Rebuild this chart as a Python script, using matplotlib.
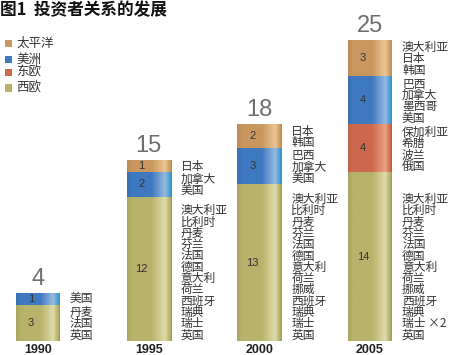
import matplotlib
matplotlib.use("Agg")
import matplotlib.pyplot as plt
import numpy as np
from matplotlib.colors import to_rgb, LinearSegmentedColormap
from matplotlib.patches import Rectangle

# ---------------- data ----------------
years = ["1990", "1995", "2000", "2005"]
region_names = ["西欧", "东欧", "美洲", "太平洋"]          # stacking order (bottom -> top)
legend_order = ["太平洋", "美洲", "东欧", "西欧"]

west = [3, 12, 13, 14]
east = [0, 0, 0, 4]
americas = [1, 2, 3, 4]
pacific = [0, 1, 2, 3]

west_countries = [
    ["丹麦", "法国", "英国"],
    ["澳大利亚", "比利时", "丹麦", "芬兰", "法国", "德国", "意大利", "荷兰", "西班牙", "瑞典", "瑞士", "英国"],
    ["澳大利亚", "比利时", "丹麦", "芬兰", "法国", "德国", "意大利", "荷兰", "挪威", "西班牙", "瑞典", "瑞士", "英国"],
    ["澳大利亚", "比利时", "丹麦", "芬兰", "法国", "德国", "意大利", "荷兰", "挪威", "西班牙", "瑞典", "瑞士 ×2", "英国"],
]
east_countries = [[], [], [], ["保加利亚", "希腊", "波兰", "俄国"]]
americas_countries = [["美国"], ["加拿大", "美国"], ["巴西", "加拿大", "美国"], ["巴西", "加拿大", "墨西哥", "美国"]]
pacific_countries = [[], ["日本"], ["日本", "韩国"], ["澳大利亚", "日本", "韩国"]]

title = "图1  投资者关系的发展"

# ---------------- styles ----------------
colors = {
    "西欧": ("#b7b36a", "#dedcaa", "#a39c4e"),
    "东欧": ("#cd694e", "#eaa285", "#c4553a"),
    "美洲": ("#3f79c0", "#95bae0", "#2a90d2"),
    "太平洋": ("#c9975f", "#ebc593", "#c08a4e"),
}
legend_colors = {"太平洋": "#c9975f", "美洲": "#3f79c0", "东欧": "#cd694e", "西欧": "#b7b36a"}

CJK = ["Noto Sans CJK SC", "DejaVu Sans"]
NUM = ["Liberation Sans", "DejaVu Sans"]

W, H = 451, 355
fig = plt.figure(figsize=(W / 100, H / 100), dpi=100)
ax = fig.add_axes([0, 0, 1, 1])
ax.set_axis_off()

px_unit = 12.04     # pixels per unit
px_cat = 110.67     # pixels per category
y0_px = 341         # pixel row of baseline (from top)
x0_px = 38
ylim = (-(H - y0_px) / px_unit, y0_px / px_unit)
xlim = (-x0_px / px_cat, (W - x0_px) / px_cat)

bar_w = 44 / px_cat
xs = np.arange(len(years))
series = {"西欧": west, "东欧": east, "美洲": americas, "太平洋": pacific}
country_lists = {"西欧": west_countries, "东欧": east_countries,
                 "美洲": americas_countries, "太平洋": pacific_countries}


def make_cmap(base, light, edge):
    b, l, e = np.array(to_rgb(base)), np.array(to_rgb(light)), np.array(to_rgb(edge))
    dark = b * 0.93
    return LinearSegmentedColormap.from_list(
        "g", [(0.0, dark), (0.12, b), (0.55, b), (0.85, l), (1.0, e)])


grad = np.linspace(0, 1, 256).reshape(1, -1)
pitch = 11.3 / px_unit
bottoms = np.zeros(len(years))
for reg in region_names:
    vals = np.array(series[reg], dtype=float)
    base, light, edge = colors[reg]
    cmap = make_cmap(base, light, edge)
    bars = ax.bar(xs, vals, width=bar_w, bottom=bottoms, color=base, linewidth=0)
    for patch, v in zip(bars.patches, vals):
        if v <= 0:
            continue
        x0, y0 = patch.get_x(), patch.get_y()
        im = ax.imshow(grad, cmap=cmap, aspect="auto", interpolation="bilinear",
                       extent=(x0, x0 + patch.get_width(), y0, y0 + patch.get_height()),
                       zorder=patch.get_zorder() + 0.1)
        im.set_clip_path(patch)
    for i, v in enumerate(vals):
        if v <= 0:
            continue
        ax.text(xs[i] - 7 / px_cat, bottoms[i] + v / 2, f"{int(v)}", ha="center", va="center",
                fontsize=8, family=NUM, color="#333333", zorder=5)
        names = country_lists[reg][i]
        n = len(names)
        for k, name in enumerate(names):
            from_bottom = n - 1 - k
            yc = bottoms[i] + 0.5 + from_bottom * pitch
            ax.text(xs[i] + bar_w / 2 + 10 / px_cat, yc, name, ha="left", va="center",
                    fontsize=8.5, family=CJK, color="#333333", linespacing=1.0)
    bottoms = bottoms + vals

ax.set_xlim(*xlim)
ax.set_ylim(*ylim)

totals = bottoms
for i, t in enumerate(totals):
    ax.text(xs[i], t + 8 / px_unit, f"{int(t)}", ha="center", va="baseline",
            fontsize=17, family=NUM, color="#6e6e6e")
    ax.text(xs[i], -9 / px_unit, years[i], ha="center", va="center",
            fontsize=9, family=NUM, fontweight="bold", color="#222222")

# title
fig.text(0 / W, 1 - 10 / H, title, ha="left", va="center", fontsize=12,
         fontweight="bold", family=CJK, color="#111111")

# legend
leg_y = [43.5, 59.5, 72.5, 88]
for name, yy in zip(legend_order, leg_y):
    fig.add_artist(Rectangle((4.5 / W, 1 - (yy + 3.8) / H), 7.5 / W, 7.5 / H,
                             transform=fig.transFigure, color=legend_colors[name], linewidth=0))
    fig.text(16.5 / W, 1 - yy / H, name, ha="left", va="center", fontsize=9,
             family=CJK, color="#333333")

fig.savefig("out.png", dpi=100)
